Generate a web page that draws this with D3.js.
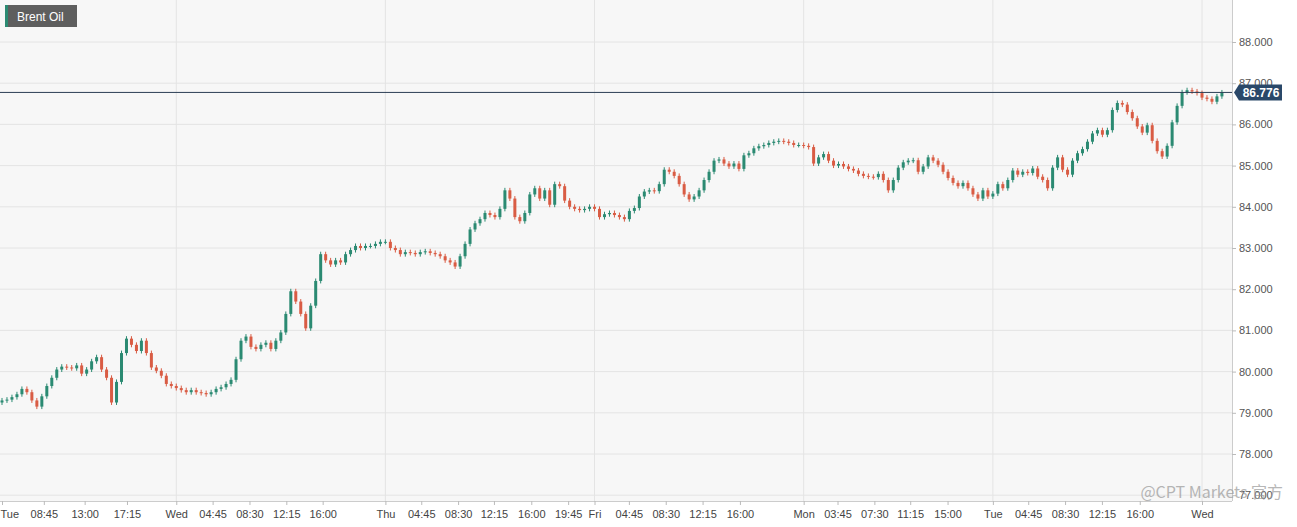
<!DOCTYPE html>
<html><head><meta charset="utf-8">
<script src="https://cdn.jsdelivr.net/npm/d3@7"></script>
<style>body{margin:0;background:#fff;font-family:"Liberation Sans",Arial,sans-serif}</style>
</head><body><svg id="c" width="1297" height="527"></svg>
<script>
const closesTue1=[79.30,79.32,79.38,79.45,79.58,79.50,79.30,79.15,79.40,79.65,79.85,80.05,80.12,80.10,80.08,80.15,79.95,80.05,80.25,80.35,80.05,79.85,79.25,79.75,80.45,80.80,80.65,80.50,80.75,80.45,80.10,80.02,79.90,79.70,79.65];
const closesWed1=[79.60,79.55,79.50,79.55,79.50,79.48,79.45,79.50,79.58,79.62,79.70,79.80,80.30,80.75,80.85,80.60,80.55,80.65,80.70,80.55,80.75,80.95,81.40,81.95,81.70,81.40,81.05,81.60,82.20,82.85,82.70,82.60,82.70,82.65,82.85,82.95,83.05,83.00,83.05,83.05,83.10,83.15];
const closesThu=[83.15,83.00,82.95,82.85,82.90,82.88,82.85,82.90,82.92,82.88,82.85,82.80,82.70,82.65,82.55,82.80,83.10,83.45,83.60,83.70,83.85,83.80,83.75,83.95,84.40,84.20,83.75,83.65,83.85,84.30,84.45,84.20,84.40,84.05,84.55,84.50,84.15,84.00,83.95,83.92,83.95,84.00];
const closesFri=[83.95,83.75,83.82,83.85,83.80,83.75,83.70,83.90,83.97,84.25,84.37,84.40,84.38,84.55,84.90,84.85,84.75,84.55,84.30,84.18,84.25,84.40,84.65,84.85,85.12,85.15,85.05,84.98,85.05,84.92,85.25,85.30,85.42,85.47,85.50,85.55,85.58,85.60,85.58,85.55,85.50,85.50];
const closesMon=[85.48,85.45,85.05,85.20,85.28,85.12,85.00,85.04,84.98,84.92,84.88,84.80,84.75,84.73,84.72,84.80,84.65,84.40,84.65,84.95,85.08,85.12,85.13,84.85,84.98,85.20,85.12,85.02,84.85,84.70,84.58,84.50,84.58,84.45,84.30,84.20,84.40,84.25];
const closesTue2=[84.32,84.55,84.45,84.65,84.88,84.78,84.85,84.82,84.93,84.73,84.65,84.45,84.95,85.20,84.90,84.78,85.12,85.30,85.40,85.58,85.78,85.86,85.75,85.86,86.35,86.52,86.48,86.30,86.15,85.95,85.80,85.98,85.60,85.35,85.22,85.48,86.05,86.45,86.78,86.83,86.80,86.76];
const closesWed2=[86.65,86.62,86.55,86.68,86.776];
const lastPrice=86.776;
const priceTicks=[77,78,79,80,81,82,83,84,85,86,87,88];
const dayStarts=[35,77,119,161,199,241];
const tickSlots=[0,8.4,16.6,25.1,35,42.3,49.7,57.1,64.4,77,84.2,91.6,98.8,106.3,113.7,119,125.9,133.3,140.7,148.2,161,167.8,175.2,182.4,189.9,199,206.1,213.5,220.9,228.5,241];
const tickLabels=["Tue","08:45","13:00","17:15","Wed","04:45","08:30","12:15","16:00","Thu","04:45","08:30","12:15","16:00","19:45","Fri","04:45","08:30","12:15","16:00","Mon","03:45","07:30","11:15","15:00","Tue","04:45","08:30","12:15","16:00","Wed"];

const closes=[].concat(closesTue1,closesWed1,closesThu,closesFri,closesMon,closesTue2,closesWed2);
const wickPad=0.06;
const candles=closes.map((c,i)=>{const o=i?closes[i-1]:79.25;return {i,o,c,h:Math.max(o,c)+wickPad,l:Math.min(o,c)-wickPad};});

const svg=d3.select("#c");
const W=1232,H=501;
const x=d3.scaleLinear().domain([0,241]).range([2,1202]);
const y=d3.scaleLinear().domain([78,88]).range([454,42]);

svg.append("rect").attr("x",0).attr("y",0).attr("width",W).attr("height",H).attr("fill","#f7f7f7");
svg.append("g").selectAll("line").data(priceTicks).join("line")
 .attr("x1",0).attr("x2",W).attr("y1",d=>y(d)).attr("y2",d=>y(d)).attr("stroke","#e4e4e4");
svg.append("g").selectAll("line").data(dayStarts).join("line")
 .attr("x1",d=>x(d)).attr("x2",d=>x(d)).attr("y1",0).attr("y2",H).attr("stroke","#e4e4e4");
svg.append("line").attr("x1",W+0.5).attr("x2",W+0.5).attr("y1",0).attr("y2",H).attr("stroke","#ccc");
svg.append("line").attr("x1",0).attr("x2",W).attr("y1",H+0.5).attr("y2",H+0.5).attr("stroke","#ccc");

const up="#2b8a72",dn="#d95c44";
const g=svg.append("g");
g.selectAll("line").data(candles).join("line")
 .attr("x1",d=>x(d.i)).attr("x2",d=>x(d.i)).attr("y1",d=>y(d.h)).attr("y2",d=>y(d.l))
 .attr("stroke",d=>d.c>=d.o?up:dn).attr("stroke-width",1);
g.selectAll("rect").data(candles).join("rect")
 .attr("x",d=>x(d.i)-1.5).attr("width",3)
 .attr("y",d=>y(Math.max(d.o,d.c))).attr("height",d=>Math.max(1,Math.abs(y(d.o)-y(d.c))))
 .attr("fill",d=>d.c>=d.o?up:dn);

// y axis
const ya=svg.append("g").attr("transform",`translate(${W},0)`)
 .call(d3.axisRight(y).tickValues(priceTicks).tickFormat(d3.format(".3f")).tickSize(4));
ya.select(".domain").remove();
ya.selectAll("line").attr("stroke","#bbb");
ya.selectAll("text").attr("fill","#555").attr("font-size","11px").attr("font-family","Liberation Sans, Arial").attr("x",7);

// x axis
const xa=svg.append("g").attr("transform",`translate(0,${H})`)
 .call(d3.axisBottom(x).tickValues(tickSlots).tickFormat((d,i)=>tickLabels[i]).tickSize(4));
xa.select(".domain").remove();
xa.selectAll("line").attr("stroke","#bbb");
xa.selectAll("text").attr("fill","#444").attr("font-size","11px").attr("font-family","Liberation Sans, Arial").attr("dy","0.9em");
xa.selectAll("text").filter((d,i)=>i===0).attr("text-anchor","start").attr("dx","-2");

// last price line + label
svg.append("line").attr("x1",0).attr("x2",W).attr("y1",y(lastPrice)).attr("y2",y(lastPrice)).attr("stroke","#2c3e55").attr("stroke-width",1);
const ly=y(lastPrice);
svg.append("path").attr("d",`M${W+2},${ly} L${W+7},${ly-8} L${W+50},${ly-8} L${W+50},${ly+8} L${W+7},${ly+8} Z`).attr("fill","#2a4869");
svg.append("text").attr("x",W+29).attr("y",ly+4.5).attr("text-anchor","middle").attr("fill","#fff")
 .attr("font-size","12px").attr("font-weight","bold").text(d3.format(".3f")(lastPrice));

// legend
svg.append("rect").attr("x",5).attr("y",5).attr("width",72).attr("height",22).attr("fill","#5e5e5e");
svg.append("rect").attr("x",5).attr("y",5).attr("width",3).attr("height",22).attr("fill",up);
svg.append("text").attr("x",17).attr("y",20.5).attr("fill","#fff").attr("font-size","12px").text("Brent Oil");

// watermark
svg.append("text").attr("x",1283).attr("y",498).attr("text-anchor","end").attr("fill","#999").attr("opacity",0.7)
 .attr("font-size","16px").attr("font-family","Noto Sans CJK SC, sans-serif").text("@CPT Markets 官方");
</script></body></html>
